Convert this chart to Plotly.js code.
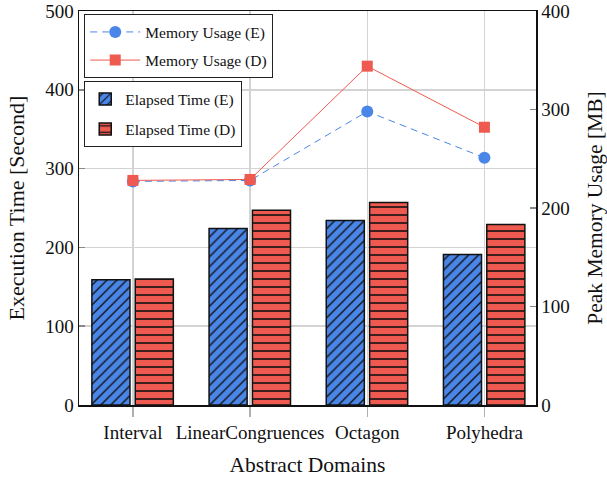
<!DOCTYPE html>
<html>
<head>
<meta charset="utf-8">
<script src="https://cdn.plot.ly/plotly-3.0.1.min.js"></script>
<style>body{margin:0;padding:0;background:#fff;}#chart{width:607px;height:477px;}</style>
</head>
<body>
<div id="chart"></div>
<script>
const categories = ["Interval", "LinearCongruences", "Octagon", "Polyhedra"];
const elapsedE = [159, 224, 234, 191];
const elapsedD = [160, 247, 257, 229];
const memoryE = [227, 228, 298, 251];
const memoryD = [228, 229, 344, 282];
const leftTicks = [0, 100, 200, 300, 400, 500];
const rightTicks = [0, 100, 200, 300, 400];

const FONT = "Liberation Serif, Times New Roman, serif";
const BLUE = "#4a86e8";
const RED = "#ee5a4f";

const traces = [
  {
    type: "bar", name: "Elapsed Time (E)", x: categories, y: elapsedE,
    width: 0.325, offset: -0.35, legend: "legend2", legendgroup: "b1",
    marker: {color: BLUE, line: {color: "#111", width: 1.5},
      pattern: {shape: "/", bgcolor: BLUE, fgcolor: "#111", size: 7, solidity: 0.2}}
  },
  {
    type: "bar", name: "Elapsed Time (D)", x: categories, y: elapsedD,
    width: 0.325, offset: 0.02, legend: "legend2", legendgroup: "b2",
    marker: {color: RED, line: {color: "#111", width: 1.5},
      pattern: {shape: "-", bgcolor: RED, fgcolor: "#111", size: 8, solidity: 0.2}}
  },
  {
    type: "scatter", mode: "lines+markers", name: "Memory Usage (E)",
    x: categories, y: memoryE, yaxis: "y2", legend: "legend", legendgroup: "m1",
    line: {color: BLUE, width: 1, dash: "7px,5px"},
    marker: {symbol: "circle", size: 12, color: BLUE}
  },
  {
    type: "scatter", mode: "lines+markers", name: "Memory Usage (D)",
    x: categories, y: memoryD, yaxis: "y2", legend: "legend", legendgroup: "m2",
    line: {color: RED, width: 1},
    marker: {symbol: "square", size: 11, color: RED}
  }
];

const layout = {
  width: 607, height: 477,
  margin: {l: 79, r: 71, t: 11, b: 72},
  paper_bgcolor: "#fff", plot_bgcolor: "#fff",
  font: {family: FONT, size: 16, color: "#111"},
  xaxis: {
    type: "category", range: [-0.46, 3.44], automargin: false,
    showline: true, linecolor: "#111", linewidth: 1.5, mirror: true,
    showgrid: true, gridcolor: "#d3d3d3", gridwidth: 1.5,
    ticks: "outside", ticklen: 10, tickcolor: "#b0b0b0", tickwidth: 1.5,
    tickfont: {family: FONT, size: 19, color: "#111"},
    title: {text: "Abstract Domains", font: {family: FONT, size: 21.5, color: "#111"}, standoff: 14},
    zeroline: false
  },
  yaxis: {
    range: [0, 500], tickvals: leftTicks, ticktext: leftTicks.map(String), automargin: false,
    showline: true, linecolor: "#111", linewidth: 1.5,
    showgrid: true, gridcolor: "#d3d3d3", gridwidth: 1.5,
    ticks: "inside", ticklen: 6, tickcolor: "#888", tickwidth: 1.5,
    tickfont: {family: FONT, size: 19, color: "#111"},
    title: {text: "Execution Time [Second]", font: {family: FONT, size: 22, color: "#111"}, standoff: 14},
    zeroline: false
  },
  yaxis2: {
    overlaying: "y", side: "right", automargin: false,
    range: [0, 400], tickvals: rightTicks, ticktext: rightTicks.map(String),
    showline: true, linecolor: "#111", linewidth: 1.5,
    showgrid: false,
    ticks: "inside", ticklen: 6, tickcolor: "#888", tickwidth: 1.5,
    tickfont: {family: FONT, size: 19, color: "#111"},
    title: {text: "Peak Memory Usage [MB]", font: {family: FONT, size: 21.5, color: "#111"}, standoff: 19},
    zeroline: false
  },
  legend: {
    x: 0.011, y: 0.992, xanchor: "left", yanchor: "top",
    bgcolor: "#fff", bordercolor: "#222", borderwidth: 1.2,
    font: {family: FONT, size: 15.5, color: "#111"},
    tracegroupgap: 5, itemwidth: 50
  },
  legend2: {
    x: 0.011, y: 0.822, xanchor: "left", yanchor: "top",
    bgcolor: "#fff", bordercolor: "#222", borderwidth: 1.2,
    font: {family: FONT, size: 15.5, color: "#111"},
    tracegroupgap: 7, itemwidth: 30
  },
  showlegend: true
};

Plotly.newPlot("chart", traces, layout, {displayModeBar: false, staticPlot: true});
</script>
</body>
</html>
